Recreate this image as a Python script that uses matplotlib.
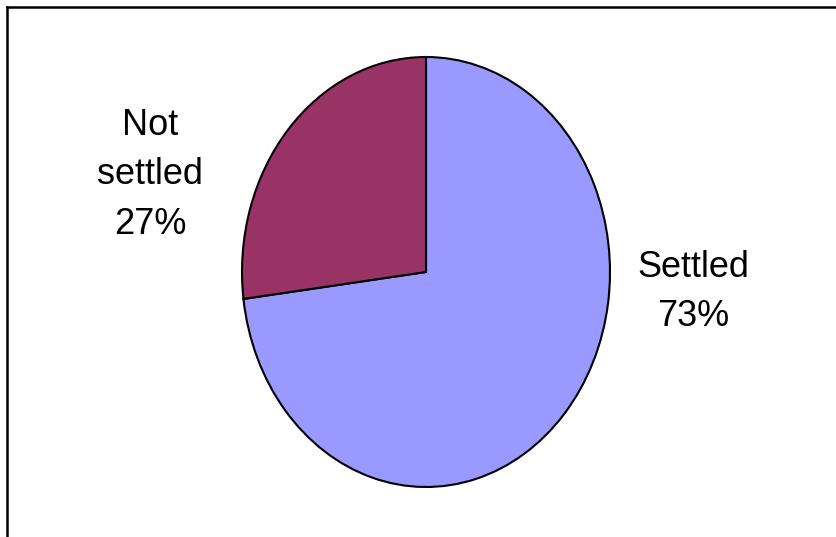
import matplotlib
matplotlib.use("Agg")
import matplotlib.pyplot as plt
from matplotlib.lines import Line2D

labels = ["Settled", "Not settled"]
values = [73, 27]
colors = ["#9999FF", "#993366"]

W, H = 836, 537
fig = plt.figure(figsize=(W / 100, H / 100), dpi=100)
fig.patch.set_facecolor("white")

# pie ellipse: center (426, 272) px, rx 184, ry 215
cx, cy, rx, ry = 426, 272, 184, 215
ax = fig.add_axes([(cx - rx) / W, (H - cy - ry) / H, 2 * rx / W, 2 * ry / H])
ax.pie(values, colors=colors, startangle=90, counterclock=False,
       wedgeprops=dict(edgecolor="black", linewidth=1.5))
ax.set_aspect("auto")
ax.set_xlim(-1, 1)
ax.set_ylim(-1, 1)
ax.axis("off")

font = dict(family="Liberation Sans", fontsize=26, color="black",
            ha="center", va="center", linespacing=1.55)
fig.text(693 / W, 1 - 292 / H, f"{labels[0]}\n{values[0]}%", **font)
fig.text(150 / W, 1 - 175 / H, f"Not\nsettled\n{values[1]}%", **font)

# partial frame (top and left)
fig.add_artist(Line2D([7 / W, 1], [1 - 7 / H, 1 - 7 / H], color="black", lw=1.8,
                      transform=fig.transFigure))
fig.add_artist(Line2D([7 / W, 7 / W], [0, 1 - 7 / H], color="black", lw=1.8,
                      transform=fig.transFigure))

fig.savefig("out.png", dpi=100)
